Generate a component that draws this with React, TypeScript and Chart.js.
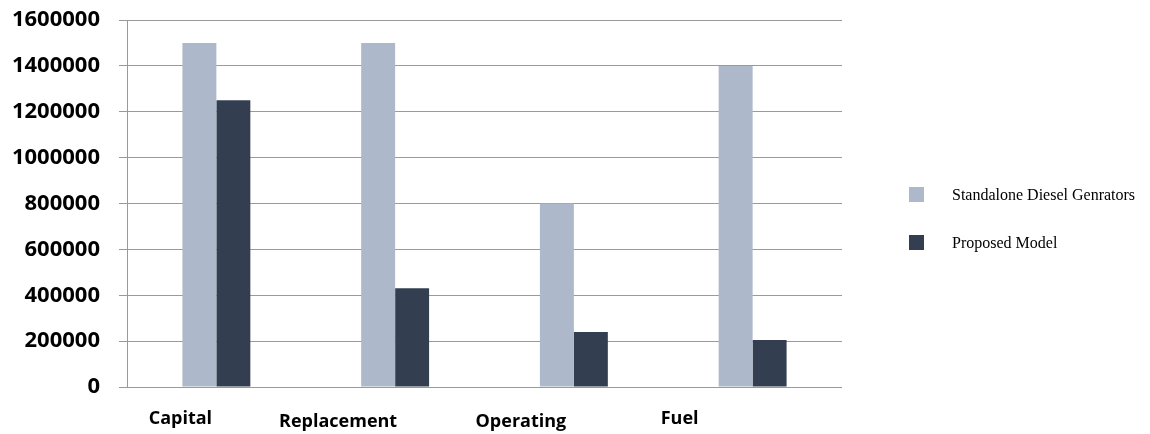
import React, { useEffect, useRef } from 'react';
import { Chart, registerables } from 'chart.js';

Chart.register(...registerables);

// ---- data ----
const categories = ['Capital', 'Replacement', 'Operating', 'Fuel'];
const seriesNames = ['Standalone Diesel Genrators', 'Proposed Model'];
const standaloneDiesel = [1500000, 1500000, 800000, 1400000];
const proposedModel = [1250000, 430000, 240000, 205000];
const yMin = 0;
const yMax = 1600000;
const yStep = 200000;

// ---- style ----
const COLORS = ['#adb9ca', '#333f50'];
const GRID = '#9a9a9a';
const STYLE = {
  width: 1150,
  height: 434,
  catLabelDx: [-36, -57, -53, -73],
  catLabelBaseline: [424, 427, 427, 424],
  catFont: 'bold 18px "Open Sans"',
  legendBoxX: 909,
  legendTextX: 952,
  legendCenters: [194.5, 242.5],
  legendBox: 15,
  legendFont: '16px "Liberation Serif"',
};

const categoryLabelPlugin = {
  id: 'categoryLabels',
  afterDraw(chart: any) {
    const ctx = chart.ctx;
    const xs = chart.scales.x;
    ctx.save();
    ctx.fillStyle = '#000';
    ctx.font = STYLE.catFont;
    ctx.textAlign = 'center';
    ctx.textBaseline = 'alphabetic';
    categories.forEach((c, i) => {
      const x = xs.getPixelForValue(i) + STYLE.catLabelDx[i];
      ctx.fillText(c, x, STYLE.catLabelBaseline[i]);
    });
    ctx.restore();
  },
};

const legendPlugin = {
  id: 'customLegend',
  afterDraw(chart: any) {
    const ctx = chart.ctx;
    ctx.save();
    ctx.font = STYLE.legendFont;
    ctx.textBaseline = 'middle';
    ctx.textAlign = 'left';
    chart.data.datasets.forEach((ds: any, i: number) => {
      const cy = STYLE.legendCenters[i];
      ctx.fillStyle = ds.backgroundColor;
      ctx.fillRect(STYLE.legendBoxX, cy - STYLE.legendBox / 2, STYLE.legendBox, STYLE.legendBox);
      ctx.fillStyle = '#000';
      ctx.fillText(ds.label, STYLE.legendTextX, cy + 1);
    });
    ctx.restore();
  },
};

export default function App() {
  const ref = useRef<HTMLCanvasElement>(null);
  useEffect(() => {
    if (!ref.current) return;
    const chart = new Chart(ref.current, {
      type: 'bar',
      data: {
        labels: categories,
        datasets: [
          { label: seriesNames[0], data: standaloneDiesel, backgroundColor: COLORS[0], borderWidth: 0 },
          { label: seriesNames[1], data: proposedModel, backgroundColor: COLORS[1], borderWidth: 0 },
        ],
      },
      options: {
        responsive: false,
        animation: false,
        layout: { padding: { left: 0, top: 20, right: 308, bottom: 47 } },
        plugins: { legend: { display: false }, tooltip: { enabled: false } },
        datasets: { bar: { categoryPercentage: 0.38, barPercentage: 1 } },
        scales: {
          x: {
            ticks: { display: false },
            grid: { display: false },
            border: { display: false },
            afterFit(scale: any) { scale.height = 0; },
          },
          y: {
            min: yMin,
            max: yMax,
            ticks: {
              stepSize: yStep,
              padding: 19,
              color: '#000',
              font: { family: '"Open Sans"', size: 22, weight: 'bold' },
              callback: (v: any) => String(v),
            },
            grid: { color: GRID, lineWidth: 1, tickLength: 8, drawTicks: true },
            border: { display: true, color: GRID, width: 1 },
            afterFit(scale: any) {
              scale.width = 127;
              scale.paddingTop = 0;
              scale.paddingBottom = 0;
            },
          },
        },
      },
      plugins: [categoryLabelPlugin, legendPlugin],
    } as any);
    return () => chart.destroy();
  }, []);
  return (
    <div style={{ position: 'absolute', left: 0, top: 0, width: STYLE.width, height: STYLE.height, background: '#fff' }}>
      <canvas ref={ref} width={STYLE.width} height={STYLE.height} style={{ display: 'block' }} />
    </div>
  );
}
